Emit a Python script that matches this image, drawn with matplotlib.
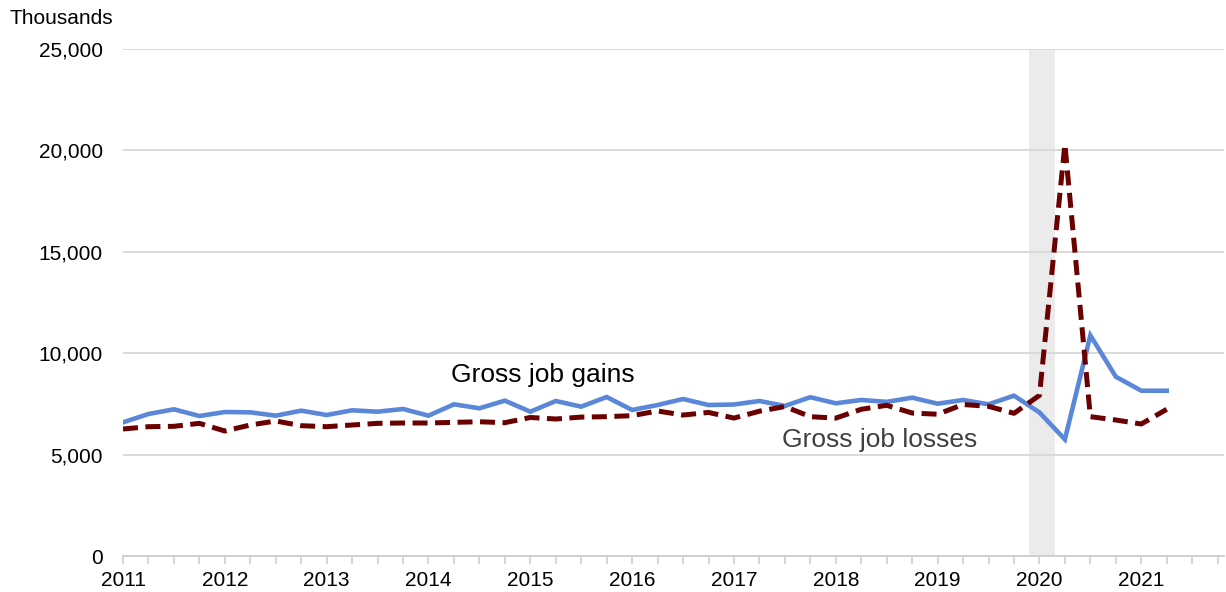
import matplotlib
matplotlib.use("Agg")
import matplotlib.pyplot as plt
from matplotlib.ticker import FuncFormatter, MultipleLocator

plt.rcParams['font.family'] = ['Liberation Sans', 'DejaVu Sans']

years = [str(y) for y in range(2011, 2022)]
gains = [6590, 7002, 7234, 6903, 7100, 7084, 6920, 7166, 6953, 7184,
         7116, 7249, 6920, 7480, 7283, 7660, 7116, 7643, 7364, 7840,
         7200, 7446, 7742, 7446, 7470, 7643, 7400, 7830, 7530, 7693,
         7600, 7807, 7510, 7693, 7480, 7906, 7080, 5750, 10880, 8840,
         8150, 8150]
losses = [6262, 6377, 6394, 6541, 6164, 6460, 6657, 6426, 6377, 6460,
          6541, 6558, 6558, 6590, 6620, 6574, 6830, 6755, 6850, 6870,
          6920, 7150, 6950, 7080, 6800, 7140, 7370, 6870, 6800, 7234,
          7430, 7050, 6990, 7470, 7380, 7036, 7920, 20300, 6870, 6706,
          6509, 7234]
recession = (35.6, 36.6)

fig = plt.figure(figsize=(12.26, 5.92), dpi=100)
ax = fig.add_axes([123/1226, 1-556/592, (1224-123)/1226, (556-49)/592])

x = list(range(len(gains)))
ax.axvspan(recession[0], recession[1], color='#ebebeb', zorder=0, lw=0)
ax.plot(x, gains, color='#5b87d9', lw=3.3, zorder=3, solid_joinstyle='miter')
ax.plot(x, losses, color='#6b0000', lw=3.6, dashes=(3.0, 1.5), zorder=4)

ax.set_ylim(0, 25000)
ax.set_xlim(0, 43.25)
ax.yaxis.set_major_locator(MultipleLocator(5000))
ax.yaxis.set_major_formatter(FuncFormatter(lambda v, p: f"{int(v):,}"))
ax.set_xticks(range(0, 41, 4))
ax.set_xticklabels(years)
ax.xaxis.set_minor_locator(MultipleLocator(1))

ax.grid(axis='y', color='#d9d9d9', lw=1.4, zorder=1)
ax.set_axisbelow(True)
for s in ['top', 'right', 'left']:
    ax.spines[s].set_visible(False)
ax.spines['bottom'].set_color('#d0d0d0')
ax.spines['bottom'].set_linewidth(1.4)
ax.spines['bottom'].set_zorder(2)

ax.tick_params(axis='y', length=0, pad=14.4, labelsize=15, colors='black')
ax.tick_params(axis='x', which='both', length=6, width=1.2, color='#d0d0d0',
               labelsize=15, pad=4.5)
ax.tick_params(axis='x', which='major', labelcolor='black')

ax.text(12.88, 8925, 'Gross job gains', fontsize=19, color='black',
        ha='left', va='center', zorder=5)
ax.text(25.9, 5720, 'Gross job losses', fontsize=19, color='#404040',
        ha='left', va='center', zorder=5)
fig.text(10/1226, 1-18/592, 'Thousands', fontsize=15, ha='left', va='center')

fig.savefig('out.png', dpi=100)
